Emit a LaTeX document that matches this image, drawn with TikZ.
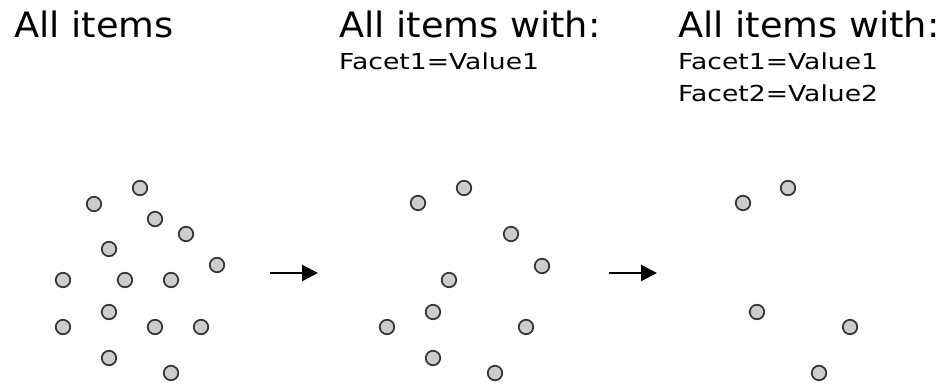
\documentclass[tikz,border=0pt]{standalone}
\usepackage{fontspec}
\setmainfont{DejaVu Sans}
\newfontfamily\subfont[FakeStretch=1.21]{DejaVu Sans}
\newfontfamily\headfont[FakeStretch=1.05]{DejaVu Sans}
\usetikzlibrary{arrows.meta}
\definecolor{dotfill}{HTML}{CCCCCC}
\definecolor{dotline}{HTML}{333333}
\tikzset{
  dot/.style={circle, draw=dotline, fill=dotfill, line width=1.7pt, minimum size=14.5pt, inner sep=0pt},
  heading/.style={anchor=base west, inner sep=0pt, font=\headfont\fontsize{35}{40}\selectfont},
  subline/.style={anchor=base west, inner sep=0pt, font=\subfont\fontsize{22}{26}\selectfont},
  flow/.style={line width=2.4pt, -{Triangle[length=16pt,width=16pt]}}
}
\begin{document}
\begin{tikzpicture}[x=1pt,y=-1pt]
\useasboundingbox (0,0) rectangle (944,385);
% headings
\node[heading] (h1) at (14,37.5) {All items};
\node[heading] (h2) at (339,37.5) {All items with:};
\node[heading] (h3) at (678,37.5) {All items with:};
\node[subline] (s21) at (339,70) {Facet1=Value1};
\node[subline] (s31) at (678,70) {Facet1=Value1};
\node[subline] (s32) at (678,102) {Facet2=Value2};
% panel 1 dots
\foreach \x/\y [count=\i] in {140/188, 94/204, 155/219, 186/234, 109/249, 217/265,
  63/280, 125/280, 171/280, 109/312, 63/327, 155/327, 201/327, 109/358, 171/373}
  \node[dot] (a\i) at (\x,\y) {};
% panel 2 dots
\foreach \x/\y [count=\i] in {464/188, 418/203, 511/234, 542/266, 449/280,
  433/312, 387/327, 526/327, 433/358, 495/373}
  \node[dot] (b\i) at (\x,\y) {};
% panel 3 dots
\foreach \x/\y [count=\i] in {788/188, 743/203, 757/312, 850/327, 819/373}
  \node[dot] (c\i) at (\x,\y) {};
% arrows
\coordinate (f1s) at (270,273);
\coordinate (f1e) at (318,273);
\coordinate (f2s) at (609,273);
\coordinate (f2e) at (657,273);
\draw[flow] (f1s) -- (f1e);
\draw[flow] (f2s) -- (f2e);
\end{tikzpicture}
\end{document}
